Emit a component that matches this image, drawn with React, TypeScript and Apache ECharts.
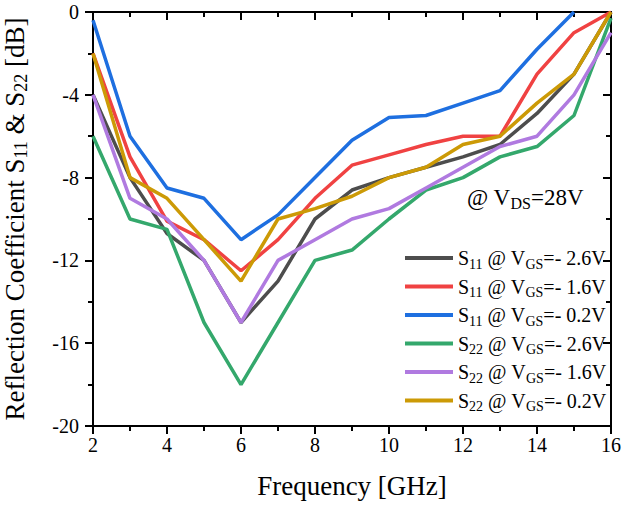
import { useEffect, useRef } from "react"
import * as echarts from "echarts"

const freq = [2, 3, 4, 5, 6, 7, 8, 9, 10, 11, 12, 13, 14, 15, 16]

const s11Vgs26 = [-4, -8, -10.7, -12, -15, -13, -10, -8.6, -8, -7.5, -7, -6.4, -4.9, -3, 0]
const s11Vgs16 = [-2, -7, -10.1, -11, -12.5, -11, -9, -7.4, -6.9, -6.4, -6, -6, -3, -1, 0]
const s11Vgs02 = [-0.4, -6, -8.5, -9, -11, -9.8, -8, -6.2, -5.1, -5, -4.4, -3.8, -1.8, 0, null]
const s22Vgs26 = [-6, -10, -10.5, -15, -18, -15, -12, -11.5, -10, -8.6, -8, -7, -6.5, -5, -0.3]
const s22Vgs16 = [-4, -9, -10, -12, -15, -12, -11, -10, -9.5, -8.5, -7.5, -6.5, -6, -4, -1]
const s22Vgs02 = [-2, -8, -9, -11, -13, -10, -9.5, -8.9, -8, -7.5, -6.4, -6, -4.4, -3, 0]

const seriesNames = ["S11 -2.6V", "S11 -1.6V", "S11 -0.2V", "S22 -2.6V", "S22 -1.6V", "S22 -0.2V"]
const legendLabels = [
  "S{sub|11} @ V{sub|GS}=- 2.6V",
  "S{sub|11} @ V{sub|GS}=- 1.6V",
  "S{sub|11} @ V{sub|GS}=- 0.2V",
  "S{sub|22} @ V{sub|GS}=- 2.6V",
  "S{sub|22} @ V{sub|GS}=- 1.6V",
  "S{sub|22} @ V{sub|GS}=- 0.2V",
]
const seriesValues = [s11Vgs26, s11Vgs16, s11Vgs02, s22Vgs26, s22Vgs16, s22Vgs02]
const colors = ["#4d4d4d", "#f04242", "#1e6fe0", "#34a86c", "#b07ae0", "#cc9a06"]

const FONT = "'Liberation Serif', 'Times New Roman', serif"

export default function App() {
  const chartRef = useRef<HTMLDivElement>(null)

  useEffect(() => {
    if (!chartRef.current) return
    document.body.style.margin = "0"
    const chart = echarts.init(chartRef.current, null, { renderer: "svg" })

    const axisCommon = {
      type: "value" as const,
      axisLine: { show: true, onZero: false, lineStyle: { color: "#000", width: 2 } },
      splitLine: { show: false },
    }

    const option: echarts.EChartsOption = {
      animation: false,
      textStyle: { fontFamily: FONT, color: "#000" },
      grid: { left: 93, right: 14, top: 12, bottom: 80, outerBoundsMode: "none" } as any,
      xAxis: [
        {
          ...axisCommon,
          min: 2,
          max: 16,
          interval: 2,
          name: "Frequency [GHz]",
          nameLocation: "middle",
          nameGap: 46,
          nameTextStyle: { fontSize: 27, fontFamily: FONT, color: "#000" },
          axisTick: { show: true, length: 8, lineStyle: { width: 2, color: "#000" } },
          minorTick: { show: true, splitNumber: 2, length: 5, lineStyle: { width: 2, color: "#000" } },
          axisLabel: { fontSize: 20, fontFamily: FONT, color: "#000", margin: 9 },
        },
        {
          ...axisCommon,
          position: "top",
          min: 2,
          max: 16,
          interval: 2,
          axisTick: { show: true, inside: true, length: 8, lineStyle: { width: 2, color: "#000" } },
          minorTick: { show: true, splitNumber: 2, length: 5, lineStyle: { width: 2, color: "#000" } },
          axisLabel: { show: false },
        },
      ],
      yAxis: [
        {
          ...axisCommon,
          min: -20,
          max: 0,
          interval: 4,
          name: "Reflection Coefficient S{sub|11} & S{sub|22} [dB]",
          nameLocation: "middle",
          nameGap: 63,
          nameTextStyle: {
            fontSize: 27,
            fontFamily: FONT,
            color: "#000",
            lineHeight: 30,
            rich: {
              sub: { fontSize: 18, lineHeight: 14, verticalAlign: "bottom", fontFamily: FONT, color: "#000" },
            },
          },
          axisTick: { show: true, length: 8, lineStyle: { width: 2, color: "#000" } },
          minorTick: { show: true, splitNumber: 2, length: 5, lineStyle: { width: 2, color: "#000" } },
          axisLabel: { fontSize: 20, fontFamily: FONT, color: "#000", margin: 14 },
        },
        {
          ...axisCommon,
          position: "right",
          min: -20,
          max: 0,
          interval: 4,
          axisTick: { show: true, inside: true, length: 8, lineStyle: { width: 2, color: "#000" } },
          minorTick: { show: true, splitNumber: 2, length: 5, lineStyle: { width: 2, color: "#000" } },
          axisLabel: { show: false },
        },
      ],
      legend: {
        orient: "vertical",
        left: 400,
        top: 240,
        itemWidth: 48,
        itemHeight: 4,
        itemGap: 2.5,
        icon: "rect",
        data: seriesNames,
        formatter: (name: string) => legendLabels[seriesNames.indexOf(name)],
        textStyle: {
          fontSize: 20,
          fontFamily: FONT,
          color: "#000",
          lineHeight: 26,
          rich: {
            sub: { fontSize: 14, lineHeight: 12, verticalAlign: "bottom", fontFamily: FONT, color: "#000" },
          },
        },
      },
      graphic: [
        {
          type: "text",
          left: 467,
          top: 183,
          style: {
            text: "@ V{sub|DS}=28V",
            fontSize: 23,
            fontFamily: FONT,
            fill: "#000",
            lineHeight: 28,
            rich: {
              sub: { fontSize: 16, lineHeight: 13, verticalAlign: "bottom", fontFamily: FONT, fill: "#000" },
            },
          } as any,
        },
      ],
      series: seriesNames.map((name, i) => ({
        name,
        type: "line" as const,
        data: freq.map((f, j) => [f, seriesValues[i][j]]),
        symbol: "none",
        connectNulls: false,
        lineStyle: { width: 3.5, color: colors[i] },
        itemStyle: { color: colors[i] },
      })),
    }

    chart.setOption(option)
    return () => {
      chart.dispose()
    }
  }, [])

  return <div ref={chartRef} style={{ width: "625px", height: "506px" }} />
}
